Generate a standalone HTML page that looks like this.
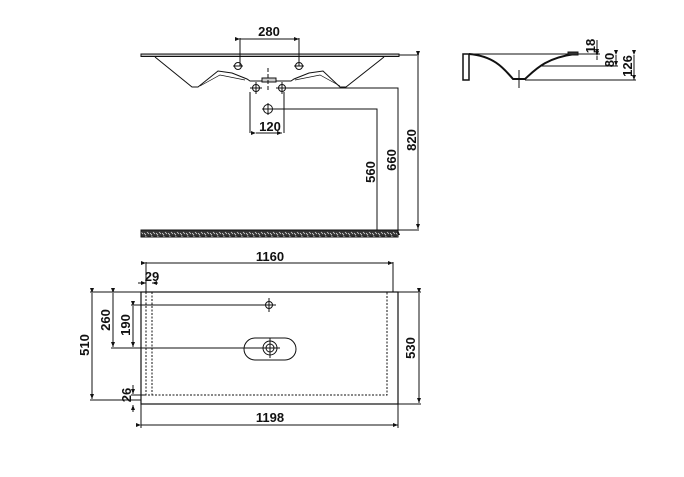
<!DOCTYPE html>
<html><head><style>
html,body{margin:0;padding:0;background:#fff;}
svg{display:block}
text{font-family:"Liberation Sans",sans-serif;font-weight:bold;font-size:13px;fill:#111}
</style></head><body>
<svg width="684" height="477" viewBox="0 0 684 477" xmlns="http://www.w3.org/2000/svg">
<defs>
<marker id="a" markerWidth="6" markerHeight="6" refX="5" refY="3" orient="auto"><path d="M0,1 L5,3 L0,5 Z" fill="#111"/></marker>
<pattern id="sp" width="6" height="7" patternUnits="userSpaceOnUse"><rect width="6" height="7" fill="#333"/><path d="M0,2 L2,4 M3,1 L5,3 M1,5 L4,6" stroke="#ddd" stroke-width="0.8"/></pattern>
</defs>
<g stroke="#111" fill="none" stroke-width="1">
<!-- top view -->
<rect x="141" y="54" width="258" height="2.5" fill="#bbb"/>
<path d="M155,57 L192,87 L198,87 L218,71 L232,73 L247,79 L250,81 L291,81 L294,79 L309,73 L323,71 L340,87 L346,87 L384,57"/>
<path d="M200,86 L220,75 L245,80 M340,86 L320,75 L295,80" stroke-width="0.7"/>
<rect x="262" y="78" width="14" height="4" fill="#ccc"/>
<line x1="268" y1="68" x2="268" y2="92" stroke-dasharray="4,2"/>
<circle cx="238" cy="66" r="3.5"/><circle cx="299" cy="66" r="3.5"/>
<line x1="233" y1="66" x2="243" y2="66"/><line x1="294" y1="66" x2="304" y2="66"/>
<circle cx="256" cy="88" r="3.5"/><circle cx="282" cy="88" r="3.5"/>
<line x1="250" y1="88" x2="262" y2="88"/><line x1="256" y1="82" x2="256" y2="94"/>
<line x1="276" y1="88" x2="288" y2="88"/><line x1="282" y1="82" x2="282" y2="94"/>
<circle cx="268" cy="109" r="4.5"/><line x1="262" y1="109" x2="274" y2="109"/><line x1="268" y1="103" x2="268" y2="115"/>
<path d="M250,92 L250,133 M284,92 L284,133"/>
<line x1="240" y1="38" x2="240" y2="66"/><line x1="299" y1="38" x2="299" y2="66"/>
<line x1="240" y1="39" x2="299" y2="39" marker-start="url(#a)" marker-end="url(#a)"/>
<line x1="256" y1="133" x2="282" y2="133" marker-start="url(#a)" marker-end="url(#a)"/>
<path d="M286,88 L398,88 L398,230"/>
<path d="M273,109 L377,109 L377,230"/>
<line x1="377" y1="230" x2="377" y2="110" marker-start="url(#a)"/>
<line x1="398" y1="230" x2="398" y2="89" marker-start="url(#a)"/>
<line x1="399" y1="55" x2="419" y2="55"/><line x1="398" y1="230" x2="419" y2="230"/>
<line x1="418" y1="56" x2="418" y2="229" marker-start="url(#a)" marker-end="url(#a)"/>
<rect x="141" y="230" width="257" height="7" fill="url(#sp)"/>
<!-- side view -->
<line x1="463" y1="54" x2="600" y2="54"/>
<rect x="463" y="54" width="6" height="26" stroke-width="1.5"/>
<path d="M469,54 C495,56 505,70 513,79 L525,79 C535,70 545,58 575,54" stroke-width="2"/>
<rect x="568" y="52" width="10" height="3" fill="#333"/>
<line x1="519" y1="70" x2="519" y2="88"/>
<line x1="540" y1="66" x2="618" y2="66"/><line x1="525" y1="80" x2="636" y2="80"/>
<line x1="597" y1="56" x2="597" y2="60" marker-start="url(#a)"/>
<line x1="597" y1="40" x2="597" y2="54" marker-end="url(#a)"/>
<line x1="616" y1="55" x2="616" y2="66" marker-start="url(#a)" marker-end="url(#a)"/>
<line x1="634" y1="55" x2="634" y2="80" marker-start="url(#a)" marker-end="url(#a)"/>
<!-- bottom plan -->
<rect x="141" y="292" width="257" height="112" stroke-width="1.2"/>
<path d="M146,292 L146,395 L387,395 L387,292" stroke-dasharray="2,1.5"/>
<path d="M152,292 L152,395" stroke-dasharray="2,1.5"/>
<circle cx="269" cy="305" r="3.5"/><line x1="262" y1="305" x2="276" y2="305"/><line x1="269" y1="298" x2="269" y2="312"/>
<rect x="244" y="338" width="52" height="22" rx="11"/>
<circle cx="270" cy="348" r="7"/><circle cx="270" cy="348" r="4"/>
<line x1="260" y1="348" x2="280" y2="348"/><line x1="270" y1="338" x2="270" y2="358"/>
<line x1="146" y1="262" x2="146" y2="292"/><line x1="393" y1="262" x2="393" y2="292"/>
<line x1="146" y1="263" x2="393" y2="263" marker-start="url(#a)" marker-end="url(#a)"/>
<line x1="138" y1="283" x2="146" y2="283" marker-end="url(#a)"/><line x1="158" y1="283" x2="152" y2="283" marker-end="url(#a)"/>
<line x1="141" y1="404" x2="141" y2="428"/><line x1="398" y1="404" x2="398" y2="428"/>
<line x1="141" y1="425" x2="398" y2="425" marker-start="url(#a)" marker-end="url(#a)"/>
<line x1="398" y1="292" x2="421" y2="292"/><line x1="398" y1="404" x2="421" y2="404"/>
<line x1="419" y1="293" x2="419" y2="403" marker-start="url(#a)" marker-end="url(#a)"/>
<line x1="90" y1="292" x2="141" y2="292"/><line x1="90" y1="400" x2="141" y2="400"/>
<line x1="92" y1="293" x2="92" y2="399" marker-start="url(#a)" marker-end="url(#a)"/>
<line x1="113" y1="293" x2="113" y2="347" marker-start="url(#a)" marker-end="url(#a)"/>
<line x1="111" y1="348" x2="263" y2="348"/>
<line x1="131" y1="305" x2="263" y2="305"/>
<line x1="133" y1="306" x2="133" y2="347" marker-start="url(#a)" marker-end="url(#a)"/>
<line x1="131" y1="395" x2="146" y2="395"/>
<line x1="133" y1="385" x2="133" y2="394" marker-end="url(#a)"/><line x1="133" y1="412" x2="133" y2="405" marker-end="url(#a)"/>
</g>
<text x="269" y="36" text-anchor="middle">280</text>
<text x="270" y="131" text-anchor="middle">120</text>
<text transform="translate(375,172) rotate(-90)" text-anchor="middle">560</text>
<text transform="translate(396,160) rotate(-90)" text-anchor="middle">660</text>
<text transform="translate(416,140) rotate(-90)" text-anchor="middle">820</text>
<text transform="translate(595,46) rotate(-90)" text-anchor="middle">18</text>
<text transform="translate(614,60) rotate(-90)" text-anchor="middle">80</text>
<text transform="translate(632,66) rotate(-90)" text-anchor="middle">126</text>
<text x="270" y="261" text-anchor="middle">1160</text>
<text x="152" y="281" text-anchor="middle">29</text>
<text x="270" y="422" text-anchor="middle">1198</text>
<text transform="translate(415,348) rotate(-90)" text-anchor="middle">530</text>
<text transform="translate(89,345) rotate(-90)" text-anchor="middle">510</text>
<text transform="translate(110,320) rotate(-90)" text-anchor="middle">260</text>
<text transform="translate(130,325) rotate(-90)" text-anchor="middle">190</text>
<text transform="translate(131,395) rotate(-90)" text-anchor="middle">26</text>
</svg>
</body></html>
